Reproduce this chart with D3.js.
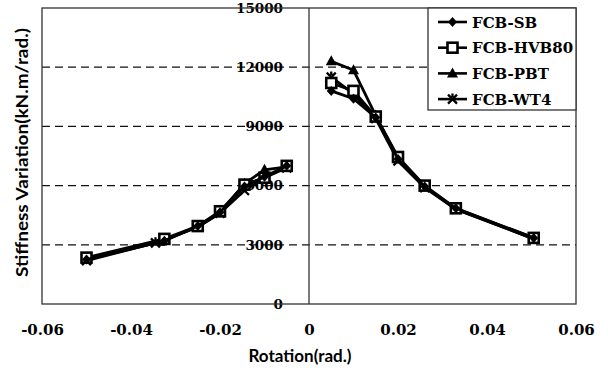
<!DOCTYPE html>
<html><head><meta charset="utf-8">
<script src="https://cdn.jsdelivr.net/npm/d3@7"></script>
<style>body{margin:0;background:#fff}svg{display:block}</style>
</head><body><svg id="c" width="608" height="373"></svg>
<script>
const seriesNames = ["FCB-SB","FCB-HVB80","FCB-PBT","FCB-WT4"];
const xSB    = [-0.050,-0.0325,-0.025,-0.020,-0.0145,-0.0100,-0.005, 0.005,0.010,0.015,0.020,0.026,0.033,0.0505];
const ySB    = [2250,3200,3950,4650,5950,6450,7000, 10800,10400,9450,7350,5950,4850,3350];
const xHVB80 = [-0.050,-0.0325,-0.025,-0.020,-0.0145,-0.0100,-0.005, 0.005,0.010,0.015,0.020,0.026,0.033,0.0505];
const yHVB80 = [2350,3300,3950,4700,6050,6400,7000, 11200,10800,9500,7450,6000,4850,3350];
const xPBT   = [-0.050,-0.0335,-0.025,-0.020,-0.0145,-0.0100,-0.005, 0.005,0.010,0.015,0.020,0.026,0.033,0.0505];
const yPBT   = [2300,3150,3900,4600,6100,6800,6950, 12300,11850,9550,7400,5950,4800,3300];
const xWT4   = [-0.050,-0.0345,-0.025,-0.020,-0.0145,-0.0100,-0.005, 0.005,0.010,0.015,0.020,0.026,0.033,0.0505];
const yWT4   = [2200,3100,3900,4600,5750,6400,6900, 11500,10650,9400,7250,5900,4800,3300];
const xTicks = [-0.06,-0.04,-0.02,0,0.02,0.04,0.06];
const xTickLabels = ["-0.06","-0.04","-0.02","0","0.02","0.04","0.06"];
const yTicks = [0,3000,6000,9000,12000,15000];
const yTickLabels = ["0","3000","6000","9000","12000","15000"];
const markers = ["diamond","square","triangle","cross"];

const svg = d3.select("#c");
const L=42,R=576,T=8,B=304;
const x = d3.scaleLinear().domain([-0.06,0.06]).range([L,R]);
const y = d3.scaleLinear().domain([0,15000]).range([B,T]);
const serif = "'DejaVu Serif', serif";
const sans = "Lato, 'Open Sans', sans-serif";

// gridlines
svg.append("g").selectAll("line").data(yTicks.filter(v=>v>0&&v<15000)).join("line")
  .attr("x1",L).attr("x2",R).attr("y1",d=>y(d)).attr("y2",d=>y(d))
  .attr("stroke","#111").attr("stroke-width",1.3).attr("stroke-dasharray","8,5");

// y axis tick labels at zero line
const yAxis = d3.axisLeft(y).tickValues(yTicks).tickFormat((d,i)=>yTickLabels[i]).tickSize(0).tickPadding(26);
const ga = svg.append("g").attr("transform",`translate(${x(0)},0)`).call(yAxis);
ga.select(".domain").remove();
ga.selectAll("text").attr("font-family",serif).attr("font-weight","bold").attr("font-size",13.5).attr("fill","#000");

// frame
svg.append("rect").attr("x",L).attr("y",T).attr("width",R-L).attr("height",B-T)
  .attr("fill","none").attr("stroke","#333").attr("stroke-width",1.3);
svg.append("line").attr("x1",x(0)).attr("x2",x(0)).attr("y1",T).attr("y2",B)
  .attr("stroke","#333").attr("stroke-width",1.3);

// x axis labels
const xAxis = d3.axisBottom(x).tickValues(xTicks).tickFormat((d,i)=>xTickLabels[i]).tickSize(0).tickPadding(20);
const gx = svg.append("g").attr("transform",`translate(0,${B})`).call(xAxis);
gx.select(".domain").remove();
gx.selectAll("text").attr("font-family",serif).attr("font-weight","bold").attr("font-size",15).attr("fill","#000");

// titles
svg.append("text").attr("x",300).attr("y",362).attr("text-anchor","middle")
  .attr("font-family",sans).attr("font-weight","bold").attr("font-size",16.5)
  .attr("textLength",103).attr("lengthAdjust","spacingAndGlyphs").text("Rotation(rad.)");
svg.append("text").attr("transform","translate(28,152.5) rotate(-90)").attr("text-anchor","middle")
  .attr("font-family",sans).attr("font-weight","bold").attr("font-size",17)
  .attr("textLength",249).attr("lengthAdjust","spacingAndGlyphs").text("Stiffness Variation(kN.m/rad.)");

function drawMarker(g,type,cx,cy){
  if(type==="diamond"){
    g.append("path").attr("d",`M${cx},${cy-5}L${cx+4.5},${cy}L${cx},${cy+5}L${cx-4.5},${cy}Z`).attr("fill","#000");
  } else if(type==="square"){
    g.append("rect").attr("x",cx-5).attr("y",cy-5).attr("width",10).attr("height",10)
      .attr("fill","#fff").attr("stroke","#000").attr("stroke-width",2.6);
  } else if(type==="triangle"){
    g.append("path").attr("d",`M${cx},${cy-6}L${cx+5.5},${cy+4}L${cx-5.5},${cy+4}Z`).attr("fill","#000");
  } else {
    g.append("path").attr("d",`M${cx-4.5},${cy-4.5}L${cx+4.5},${cy+4.5}M${cx-4.5},${cy+4.5}L${cx+4.5},${cy-4.5}M${cx},${cy-5.5}L${cx},${cy-2}`)
      .attr("stroke","#000").attr("stroke-width",2.3).attr("fill","none");
  }
}

const xs=[xSB,xHVB80,xPBT,xWT4], ys=[ySB,yHVB80,yPBT,yWT4];
const line = d3.line().x(d=>x(d[0])).y(d=>y(d[1]));
const order=[2,3,1,0];
order.forEach(si=>{
  const pts = xs[si].map((v,i)=>[v,ys[si][i]]);
  const neg = pts.filter(p=>p[0]<0), pos = pts.filter(p=>p[0]>0);
  const g = svg.append("g");
  [neg,pos].forEach(seg=>g.append("path").attr("d",line(seg)).attr("fill","none").attr("stroke","#000").attr("stroke-width",2.8));
  pts.forEach(p=>drawMarker(g,markers[si],x(p[0]),y(p[1])));
});

// legend
const lg = svg.append("g");
lg.append("rect").attr("x",428).attr("y",T).attr("width",R-428).attr("height",102)
  .attr("fill","#fff").attr("stroke","#333").attr("stroke-width",1.3);
seriesNames.forEach((n,i)=>{
  const cy = 22 + i*25.7;
  lg.append("line").attr("x1",438).attr("x2",467).attr("y1",cy).attr("y2",cy).attr("stroke","#000").attr("stroke-width",2.6);
  drawMarker(lg,markers[i],452.5,cy);
  lg.append("text").attr("x",472).attr("y",cy+5.5).attr("font-family",serif).attr("font-weight","bold")
    .attr("font-size",15).text(n);
});
</script></body></html>
